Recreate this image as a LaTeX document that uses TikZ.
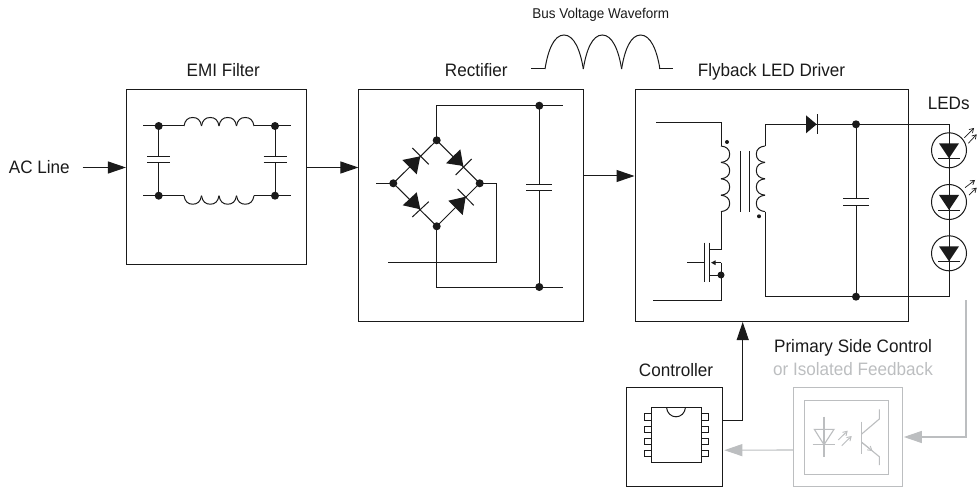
\documentclass[tikz,border=0pt]{standalone}
\usepackage{fontspec}
\setmainfont[FakeStretch=0.95]{Liberation Sans}
\usepackage{xcolor}
\usetikzlibrary{arrows.meta, positioning, calc}

\definecolor{wireblack}{HTML}{1A1A1A}
\definecolor{feedgray}{HTML}{BCBEC0}

\tikzset{
  block/.style={draw=wireblack, line width=1pt, fill=white, inner sep=0pt},
  title/.style={font=\fontsize{18}{21}\selectfont, text=wireblack, inner sep=0pt, anchor=base},
  wire/.style={draw=wireblack, line width=1pt},
  flow/.style={draw=wireblack, line width=1pt, -{Triangle[length=18pt,width=12pt]}},
  grayflow/.style={draw=feedgray, line width=1.1pt, -{Triangle[length=18pt,width=12pt]}},
  grayline/.style={draw=feedgray, line width=1.1pt},
  lightray/.style={line width=0.7pt, -{Straight Barb[length=4pt,width=5pt]}},
}

% junction dot, x y
\newcommand{\junction}[2]{\fill[wireblack] (#1,#2) circle (4);}
% capacitor on a vertical wire, x y1 y2 half width
\newcommand{\capplates}[4]{%
  \fill[white] (#1-2,#2) rectangle (#1+2,#3);
  \draw[wire] (#1-#4,#2) -- (#1+#4,#2) (#1-#4,#3) -- (#1+#4,#3);}
% LED in the string, x y
\newcommand{\ledlamp}[2]{%
  \draw[wire] (#1,#2) circle (17.5);
  \fill[wireblack] (#1-10,#2-7) -- (#1+10,#2-7) -- (#1,#2+8) -- cycle;
  \draw[wire] (#1-11,#2+8.3) -- (#1+11,#2+8.3);}

\begin{document}
\begin{tikzpicture}[x=1pt, y=-1pt]
  \useasboundingbox (0,0) rectangle (977,489);

  % ── Blocks ──
  \node[block, minimum width=180.5pt, minimum height=174pt] (emi) at (216.7,177) {};
  \node[block, minimum width=224.7pt, minimum height=231pt] (rectifier) at (471.3,205.5) {};
  \node[block, minimum width=273pt, minimum height=231pt] (flyback) at (771.5,205.5) {};
  \node[block, minimum width=95.6pt, minimum height=99pt] (ctrl) at (674.5,437.2) {};
  \node[block, draw=feedgray, minimum width=109pt, minimum height=98.6pt] (opto) at (847.8,437) {};
  \node[block, draw=feedgray, minimum width=84pt, minimum height=74.3pt] (optoin) at (846.3,437.2) {};

  % ── Titles ──
  \node[title] (acline) at (39.3,174) {AC Line};
  \node[title] (emititle) at (223.3,76.7) {EMI Filter};
  \node[title] (rectitle) at (476.3,76.7) {Rectifier};
  \node[title] (flytitle) at (771.5,76.7) {Flyback LED Driver};
  \node[title] (ledtitle) at (948.7,110) {LEDs};
  \node[title] (ctrltitle) at (676,376) {Controller};
  \node[title] (primtitle) at (853,352) {Primary Side Control};
  \node[title, text=feedgray] (isotitle) at (853,375.7) {or Isolated Feedback};
  \node[title, font=\fontsize{14.2}{17}\selectfont] (bustitle) at (600.7,18.3) {Bus Voltage Waveform};

  % ── Connectors ──
  \coordinate (acstart) at (82.7,167.5);
  \draw[flow] (acstart) -- (emi.west |- acstart);
  \draw[flow] (emi.east |- acstart) -- (rectifier.west |- acstart);
  \coordinate (busout) at (583.7,176);
  \draw[flow] (busout) -- (flyback.west |- busout);
  \coordinate (drvin) at (742.7,322);
  \draw[flow] ([yshift=16.5pt]ctrl.east) -| (drvin);
  \draw[grayflow] ([yshift=-13pt]opto.west) -- ([xshift=1.5pt,yshift=-13pt]ctrl.east);
  \coordinate (ledtap) at (966,300);
  \draw[grayflow] (ledtap) |- ([xshift=1pt]opto.east);

  % ── Waveform ──
  \draw[wire] (531,69) -- (545,69) (659,69) -- (673,69);
  \foreach \x in {545,583.3,621.6} {
    \draw[wire] (\x,69) .. controls (\x+3,50) and (\x+9,35) .. (\x+19,35)
      .. controls (\x+29,35) and (\x+35.3,50) .. (\x+38.3,69);
  }

  % ── EMI filter ──
  \draw[wire] (143,126) -- (184,126) (254,126) -- (291,126);
  \draw[wire] (143,195.7) -- (184,195.7) (254,195.7) -- (291,195.7);
  \foreach \x in {184,201.5,219,236.5} {
    \draw[wire] (\x,126) .. controls (\x+1,120) and (\x+4,117.5) .. (\x+8.75,117.5)
      .. controls (\x+13.5,117.5) and (\x+16.5,120) .. (\x+17.5,126);
    \draw[wire] (\x,195.7) .. controls (\x+1,201.7) and (\x+4,204.2) .. (\x+8.75,204.2)
      .. controls (\x+13.5,204.2) and (\x+16.5,201.7) .. (\x+17.5,195.7);
  }
  \foreach \x in {158.7,275} {
    \draw[wire] (\x,126) -- (\x,195.7);
    \capplates{\x}{156.7}{162.7}{11.5}
    \junction{\x}{126}
    \junction{\x}{195.7}
  }

  % ── Bridge rectifier ──
  \draw[wire] (393.3,183.3) -- (436.7,140.3) -- (479.7,183.3) -- (436.7,226.3) -- cycle;
  \draw[wire] (376,183.3) -- (393.3,183.3);
  \draw[wire] (436.7,140.3) -- (436.7,105.7) -- (562.7,105.7);
  \draw[wire] (436.7,226.3) -- (436.7,287) -- (562.7,287);
  \draw[wire] (479.7,183.3) -- (496,183.3) -- (496,262.7) -- (388,262.7);
  \draw[wire] (539.3,105.7) -- (539.3,287);
  \capplates{539.3}{184.3}{190.7}{13}
  \fill[wireblack] (420.3,156.3) -- (402.3,160) -- (416.7,174.3) -- cycle;
  \draw[wire] (412.3,148) -- (428.7,164.3);
  \fill[wireblack] (463.3,166) -- (446,163.3) -- (460.3,149.3) -- cycle;
  \draw[wire] (455.7,175) -- (471.7,159);
  \fill[wireblack] (420.3,209.3) -- (402.7,205.3) -- (416.7,192.3) -- cycle;
  \draw[wire] (412.3,217) -- (428.7,201.7);
  \fill[wireblack] (465.7,196.7) -- (448.3,200.7) -- (462.7,215) -- cycle;
  \draw[wire] (457.7,189) -- (473.7,205.3);
  \foreach \x/\y in {393.3/183.3,436.7/140.3,479.7/183.3,436.7/226.3,539.3/105.7,539.3/287} {
    \junction{\x}{\y}
  }

  % ── Flyback stage ──
  \draw[wire] (656,123) -- (721,123) -- (721,146);
  \draw[wire] (721,211.7) -- (721,249.3) -- (709.3,249.3);
  \draw[wire] (687,262.7) -- (704,262.7);
  \draw[wire] (704,242.7) -- (704,282) (709.3,242.7) -- (709.3,282);
  \draw[wire] (709.3,275) -- (721,275);
  \draw[wire, -{Triangle[length=4.5pt,width=4.5pt]}] (721,262.7) -- (711,262.7);
  \draw[wire] (721,262.7) -- (721,300.3) -- (653,300.3);
  \fill[wireblack] (721,275) circle (3.5);
  \fill[wireblack] (727,142) circle (2) (759,216.3) circle (2);
  \draw[wire] (740.7,151) -- (740.7,211.7) (749,151) -- (749,211.7);
  \foreach \y in {146,162.4,178.8,195.2} {
    \draw[wire] (721,\y) .. controls (726,\y+0.5) and (729.7,\y+3) .. (729.7,\y+8.2)
      .. controls (729.7,\y+13.4) and (726,\y+15.9) .. (721,\y+16.4);
    \draw[wire] (765,\y) .. controls (760,\y+0.5) and (756.3,\y+3) .. (756.3,\y+8.2)
      .. controls (756.3,\y+13.4) and (760,\y+15.9) .. (765,\y+16.4);
  }
  \draw[wire] (765,146) -- (765,124.3) -- (949,124.3);
  \draw[wire] (765,211.7) -- (765,296.7) -- (949,296.7) -- (949,124.3);
  \fill[wireblack] (806,115.3) -- (816.7,124.3) -- (806,133.3) -- cycle;
  \draw[wire] (817.5,114.3) -- (817.5,134.3);
  \draw[wire] (856,124.3) -- (856,296.7);
  \capplates{856}{199}{205.7}{13}
  \junction{856}{124.3}
  \junction{856}{296.7}

  % ── LEDs ──
  \foreach \y in {150.3,202,253.3} {
    \ledlamp{949}{\y}
  }
  \draw[wireblack, lightray] (964.3,137.7) -- (974,128);
  \draw[wireblack, lightray] (968.3,143.3) -- (976.7,134.3);
  \draw[wireblack, lightray] (965,187.7) -- (975,180);
  \draw[wireblack, lightray] (969,195) -- (976.7,187.7);

  % ── Controller chip ──
  \draw[wire] (651.3,407.3) rectangle (701,462.7);
  \draw[wire] (666.5,407.3) .. controls (667,413) and (671,416.8) .. (676,416.8)
    .. controls (681,416.8) and (685,413) .. (685.5,407.3);
  \foreach \y in {413.7,426,438,450} {
    \draw[wire] (644,\y) rectangle (651.3,\y+6.3);
    \draw[wire] (701,\y) rectangle (708.7,\y+6.3);
  }

  % ── Optocoupler ──
  \draw[grayline] (824,416.7) -- (824,456.7);
  \draw[grayline] (812.7,444.7) -- (835,444.7);
  \draw[grayline] (814.3,429.3) -- (834,429.3) -- (824,444.7) -- cycle;
  \draw[feedgray, lightray, line width=0.9pt] (838.3,440) -- (847.7,430.7);
  \draw[feedgray, lightray, line width=0.9pt] (841.7,445.7) -- (851.7,436);
  \draw[grayline] (861.7,421.7) -- (861.7,454);
  \draw[grayline] (861.7,434) -- (879.3,419) -- (879.3,409.3);
  \draw[grayline] (861.7,442.3) -- (879.3,456.7) -- (879.3,465);
  \draw[feedgray, lightray, line width=0.9pt] (861.7,442.3) -- (872.5,451);
\end{tikzpicture}
\end{document}
